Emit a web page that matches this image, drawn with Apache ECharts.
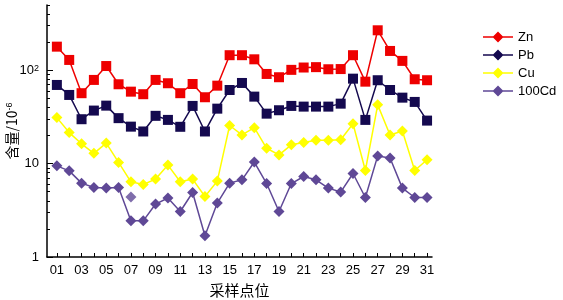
<!DOCTYPE html>
<html><head><meta charset="utf-8">
<script src="https://cdn.jsdelivr.net/npm/echarts@6/dist/echarts.min.js"></script>
<style>html,body{margin:0;padding:0;background:#fff}#c{width:563px;height:300px}</style>
</head><body><div id="c"></div>
<script>
const categories = ['01','02','03','04','05','06','07','08','09','10','11','12','13','14','15','16','17','18','19','20','21','22','23','24','25','26','27','28','29','30','31'];
const zn = [179,129,56.8,78.8,111,70.8,59,55.4,78.8,72.6,56.8,71.3,51.4,68.4,145,145,131,91.3,84.2,101,107,108,102.5,103,145,75.5,268,161,126,80.1,78.2];
const pb = [69.6,54.4,29.9,37,41.8,30.7,24.9,22.1,32.5,29.4,24.8,41.5,22.1,38.8,61.5,73.1,52.2,34.3,37.3,41.5,40.8,40.8,40.8,43.9,81.3,29.4,78.2,61.5,50.9,45.8,28.9];
const cu = [31.1,21.5,16.3,12.9,16.6,10.3,6.39,5.98,6.83,9.64,6.39,6.83,4.45,6.5,25.6,20.3,24.3,14.6,12.4,15.9,16.8,17.8,17.8,18.0,26.7,8.44,42.6,20.3,22.4,8.44,11.0];
const cd100 = [9.47,8.37,6.18,5.55,5.47,5.55,2.44,2.44,3.69,4.28,3.07,4.91,1.69,3.78,6.18,6.71,10.4,6.12,3.07,6.12,7.28,6.71,5.47,4.96,7.84,4.34,12.1,11.5,5.47,4.34,4.34];
const cdExtra = [[7, 4.38]];
const seriesNames = ['Zn','Pb','Cu','100Cd'];
const yMin = 1, yMax = 500;
const yLabelValues = [1,10,100];
const yMinorMultiples = [2,3,4,5,6,7,8,9];
const xLabelValues = [1,3,5,7,9,11,13,15,17,19,21,23,25,27,29,31];
const xTickValues = categories.map((c,i)=>i+1);

const colors = {Zn:'#ee0000', Pb:'#14094f', Cu:'#ffff00', '100Cd':'#5f4896'};
const legendIcon = 'path://M0,4.8L30,4.8L30,6.2L0,6.2Z M15,0L20.5,5.5L15,11L9.5,5.5Z';
const toXY = arr => arr.map((v,i)=>[i+1, v]);
const font = '"Liberation Sans", Arial, sans-serif';
const supRich = {sup:{fontSize:9, verticalAlign:'top', fontFamily:font, color:'#000'}};

const yAxes = [{
  type:'log', logBase:10, min:yMin, max:yMax,
  name:'含量/10{sup|-6}', nameLocation:'middle', nameGap:28, nameRotate:90, nameMoveOverlap:false,
  nameTextStyle:{fontFamily:'"Noto Sans CJK SC"', fontSize:14, color:'#000', rich:supRich},
  axisLine:{show:true, lineStyle:{color:'#000', width:1.5}},
  axisTick:{show:true, inside:true, length:6, lineStyle:{color:'#000'}},
  axisLabel:{fontFamily:font, fontSize:13, color:'#000', margin:8, showMaxLabel:false,
    formatter:v=> (Math.abs(v-100)<1e-6 ? '10{sup|2}' : (yLabelValues.some(t=>Math.abs(t-v)<1e-6) ? String(Math.round(v)) : '')),
    rich:supRich},
  splitLine:{show:false}
}];
// helper log axes (same pixel mapping, shifted by a multiple) to draw minor ticks at m·10^n
yMinorMultiples.forEach(m=>{
  yAxes.push({
    type:'log', logBase:10, min:yMin/m, max:yMax/m, position:'left', offset:0,
    axisLine:{show:false}, axisLabel:{show:false}, splitLine:{show:false},
    axisTick:{show:true, inside:true, length:3, lineStyle:{color:'#000'}}
  });
});

const chart = echarts.init(document.getElementById('c'), null, {renderer:'canvas'});
chart.setOption({
  animation:false,
  backgroundColor:'#fff',
  grid:{left:47, right:131, top:5, bottom:43, containLabel:false, outerBoundsMode:'none'},
  legend:{
    orient:'vertical', left:483, top:30, padding:0, itemWidth:30, itemHeight:11, itemGap:4,
    data: seriesNames.map(n=>({name:n, icon:legendIcon, itemStyle:{color:colors[n]}})),
    textStyle:{fontFamily:font, fontSize:13, color:'#000', lineHeight:14}
  },
  xAxis:{
    type:'value', min:0.2, max:31.4,
    name:'采样点位', nameLocation:'middle', nameGap:26, nameMoveOverlap:false,
    nameTextStyle:{fontFamily:'"Noto Sans CJK SC"', fontSize:15, color:'#000'},
    axisLine:{onZero:false, lineStyle:{color:'#000', width:1.5}},
    axisTick:{inside:true, length:4, customValues:xTickValues, lineStyle:{color:'#000'}},
    axisLabel:{customValues:xLabelValues, formatter:v=>categories[v-1], fontFamily:font, fontSize:13, color:'#000', margin:7},
    splitLine:{show:false}
  },
  yAxis: yAxes,
  series:[
    {name:'Zn', type:'line', data:toXY(zn), symbol:'rect', symbolSize:10, itemStyle:{color:colors.Zn}, lineStyle:{width:1.5, color:colors.Zn}},
    {name:'Pb', type:'line', data:toXY(pb), symbol:'rect', symbolSize:10, itemStyle:{color:colors.Pb}, lineStyle:{width:1.5, color:colors.Pb}},
    {name:'Cu', type:'line', data:toXY(cu), symbol:'diamond', symbolSize:11, itemStyle:{color:colors.Cu}, lineStyle:{width:1.5, color:colors.Cu}},
    {name:'100Cd', type:'line', data:toXY(cd100), symbol:'diamond', symbolSize:11, itemStyle:{color:colors['100Cd']}, lineStyle:{width:1.5, color:colors['100Cd']}},
    {name:'100Cd', type:'scatter', data:cdExtra, symbol:'diamond', symbolSize:11, itemStyle:{color:colors['100Cd']}}
  ]
});
</script></body></html>
